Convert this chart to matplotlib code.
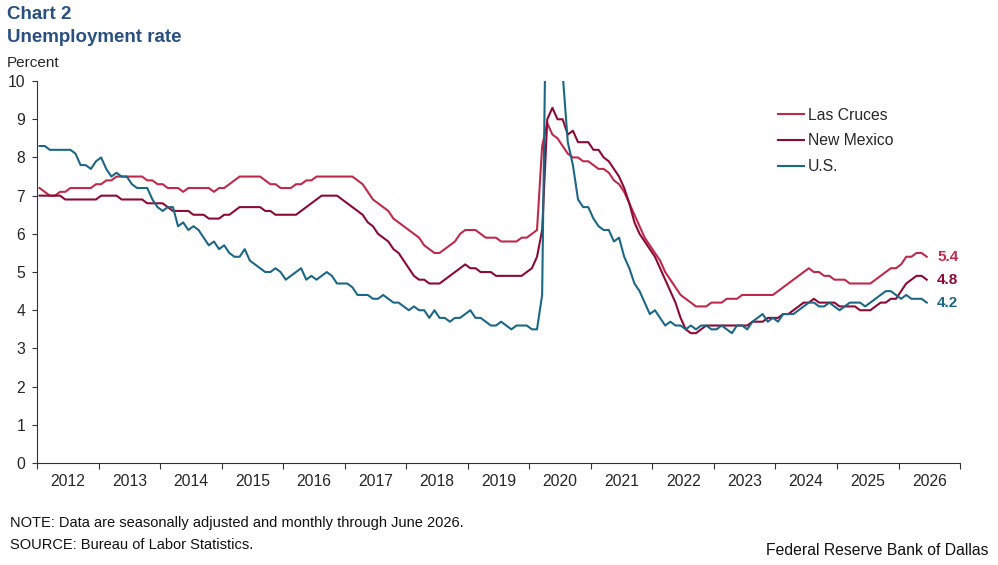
import matplotlib
matplotlib.use("Agg")
import matplotlib.pyplot as plt
import numpy as np

plt.rcParams['font.family'] = ['Liberation Sans', 'DejaVu Sans']

# monthly unemployment rate, Jan 2012 - Jun 2026
las_cruces = [
    7.2, 7.1, 7.0, 7.0, 7.1, 7.1, 7.2, 7.2, 7.2, 7.2, 7.2, 7.3,  # 2012
    7.3, 7.4, 7.4, 7.5, 7.5, 7.5, 7.5, 7.5, 7.5, 7.4, 7.4, 7.3,  # 2013
    7.3, 7.2, 7.2, 7.2, 7.1, 7.2, 7.2, 7.2, 7.2, 7.2, 7.1, 7.2,  # 2014
    7.2, 7.3, 7.4, 7.5, 7.5, 7.5, 7.5, 7.5, 7.4, 7.3, 7.3, 7.2,  # 2015
    7.2, 7.2, 7.3, 7.3, 7.4, 7.4, 7.5, 7.5, 7.5, 7.5, 7.5, 7.5,  # 2016
    7.5, 7.5, 7.4, 7.3, 7.1, 6.9, 6.8, 6.7, 6.6, 6.4, 6.3, 6.2,  # 2017
    6.1, 6.0, 5.9, 5.7, 5.6, 5.5, 5.5, 5.6, 5.7, 5.8, 6.0, 6.1,  # 2018
    6.1, 6.1, 6.0, 5.9, 5.9, 5.9, 5.8, 5.8, 5.8, 5.8, 5.9, 5.9,  # 2019
    6.0, 6.1, 8.3, 8.9, 8.6, 8.5, 8.3, 8.1, 8.0, 8.0, 7.9, 7.9,  # 2020
    7.8, 7.7, 7.7, 7.6, 7.4, 7.3, 7.1, 6.8, 6.5, 6.2, 5.9, 5.7,  # 2021
    5.5, 5.3, 5.0, 4.8, 4.6, 4.4, 4.3, 4.2, 4.1, 4.1, 4.1, 4.2,  # 2022
    4.2, 4.2, 4.3, 4.3, 4.3, 4.4, 4.4, 4.4, 4.4, 4.4, 4.4, 4.4,  # 2023
    4.5, 4.6, 4.7, 4.8, 4.9, 5.0, 5.1, 5.0, 5.0, 4.9, 4.9, 4.8,  # 2024
    4.8, 4.8, 4.7, 4.7, 4.7, 4.7, 4.7, 4.8, 4.9, 5.0, 5.1, 5.1,  # 2025
    5.2, 5.4, 5.4, 5.5, 5.5, 5.4,                                # 2026
]
new_mexico = [
    7.0, 7.0, 7.0, 7.0, 7.0, 6.9, 6.9, 6.9, 6.9, 6.9, 6.9, 6.9,
    7.0, 7.0, 7.0, 7.0, 6.9, 6.9, 6.9, 6.9, 6.9, 6.8, 6.8, 6.8,
    6.8, 6.7, 6.6, 6.6, 6.6, 6.6, 6.5, 6.5, 6.5, 6.4, 6.4, 6.4,
    6.5, 6.5, 6.6, 6.7, 6.7, 6.7, 6.7, 6.7, 6.6, 6.6, 6.5, 6.5,
    6.5, 6.5, 6.5, 6.6, 6.7, 6.8, 6.9, 7.0, 7.0, 7.0, 7.0, 6.9,
    6.8, 6.7, 6.6, 6.5, 6.3, 6.2, 6.0, 5.9, 5.8, 5.6, 5.5, 5.3,
    5.1, 4.9, 4.8, 4.8, 4.7, 4.7, 4.7, 4.8, 4.9, 5.0, 5.1, 5.2,
    5.1, 5.1, 5.0, 5.0, 5.0, 4.9, 4.9, 4.9, 4.9, 4.9, 4.9, 5.0,
    5.1, 5.4, 6.1, 9.0, 9.3, 9.0, 9.0, 8.6, 8.7, 8.4, 8.4, 8.4,
    8.2, 8.2, 8.0, 7.9, 7.7, 7.5, 7.2, 6.8, 6.3, 6.0, 5.8, 5.6,
    5.4, 5.1, 4.8, 4.5, 4.2, 3.8, 3.5, 3.4, 3.4, 3.5, 3.6, 3.6,
    3.6, 3.6, 3.6, 3.6, 3.6, 3.6, 3.6, 3.7, 3.7, 3.7, 3.8, 3.8,
    3.8, 3.9, 3.9, 4.0, 4.1, 4.2, 4.2, 4.3, 4.2, 4.2, 4.2, 4.2,
    4.1, 4.1, 4.1, 4.1, 4.0, 4.0, 4.0, 4.1, 4.2, 4.2, 4.3, 4.3,
    4.5, 4.7, 4.8, 4.9, 4.9, 4.8,
]
us = [
    8.3, 8.3, 8.2, 8.2, 8.2, 8.2, 8.2, 8.1, 7.8, 7.8, 7.7, 7.9,
    8.0, 7.7, 7.5, 7.6, 7.5, 7.5, 7.3, 7.2, 7.2, 7.2, 6.9, 6.7,
    6.6, 6.7, 6.7, 6.2, 6.3, 6.1, 6.2, 6.1, 5.9, 5.7, 5.8, 5.6,
    5.7, 5.5, 5.4, 5.4, 5.6, 5.3, 5.2, 5.1, 5.0, 5.0, 5.1, 5.0,
    4.8, 4.9, 5.0, 5.1, 4.8, 4.9, 4.8, 4.9, 5.0, 4.9, 4.7, 4.7,
    4.7, 4.6, 4.4, 4.4, 4.4, 4.3, 4.3, 4.4, 4.3, 4.2, 4.2, 4.1,
    4.0, 4.1, 4.0, 4.0, 3.8, 4.0, 3.8, 3.8, 3.7, 3.8, 3.8, 3.9,
    4.0, 3.8, 3.8, 3.7, 3.6, 3.6, 3.7, 3.6, 3.5, 3.6, 3.6, 3.6,
    3.5, 3.5, 4.4, 14.8, 13.2, 11.0, 10.2, 8.4, 7.8, 6.9, 6.7, 6.7,
    6.4, 6.2, 6.1, 6.1, 5.8, 5.9, 5.4, 5.1, 4.7, 4.5, 4.2, 3.9,
    4.0, 3.8, 3.6, 3.7, 3.6, 3.6, 3.5, 3.6, 3.5, 3.6, 3.6, 3.5,
    3.5, 3.6, 3.5, 3.4, 3.6, 3.6, 3.5, 3.7, 3.8, 3.9, 3.7, 3.8,
    3.7, 3.9, 3.9, 3.9, 4.0, 4.1, 4.2, 4.2, 4.1, 4.1, 4.2, 4.1,
    4.0, 4.1, 4.2, 4.2, 4.2, 4.1, 4.2, 4.3, 4.4, 4.5, 4.5, 4.4,
    4.3, 4.4, 4.3, 4.3, 4.3, 4.2,
]
series_names = ["Las Cruces", "New Mexico", "U.S."]
years = list(range(2012, 2027))

c_lc = "#BF2A4C"
c_nm = "#8A0B35"
c_us = "#1C6783"
c_title = "#2A5082"

n = len(us)
x = 2012 + (np.arange(n) + 0.5) / 12.0

fig = plt.figure(figsize=(9.98, 5.65), dpi=100)
ax = fig.add_axes([0.0371, 0.1805, 0.9249, 0.676])

ax.plot(x, las_cruces, color=c_lc, lw=1.5, label=series_names[0])
ax.plot(x, new_mexico, color=c_nm, lw=1.5, label=series_names[1])
ax.plot(x, us, color=c_us, lw=1.5, label=series_names[2])

ax.set_xlim(2012, 2027)
ax.set_ylim(0, 10)
ax.set_yticks(range(0, 11))
ax.set_xticks(range(2012, 2028))
ax.set_xticklabels([])
ax.set_xticks([y + 0.5 for y in years], minor=True)
ax.set_xticklabels([str(y) for y in years], minor=True)
ax.tick_params(axis='x', which='major', direction='out', length=4, width=0.8, color='#333333')
ax.tick_params(axis='x', which='minor', length=0, pad=8, labelsize=11.3, labelcolor='#262626')
ax.tick_params(axis='y', direction='out', length=3.5, width=0.8, color='#333333', pad=5,
               labelsize=11.3, labelcolor='#262626')
for s in ['top', 'right']:
    ax.spines[s].set_visible(False)
for s in ['left', 'bottom']:
    ax.spines[s].set_color('#333333')
    ax.spines[s].set_linewidth(0.8)

leg = ax.legend(loc='upper left', bbox_to_anchor=(0.803, 0.93), frameon=False,
                fontsize=11.3, handlelength=1.65, handletextpad=0.25, labelspacing=0.68,
                borderpad=0, borderaxespad=0)
for t in leg.get_texts():
    t.set_color('#262626')

# end-of-series labels
for vals, col in [(las_cruces, c_lc), (new_mexico, c_nm), (us, c_us)]:
    ax.annotate(f"{vals[-1]:.1f}", xy=(x[-1], vals[-1]), xytext=(7.5, 0),
                textcoords='offset points', color=col, fontsize=11, fontweight='bold',
                va='center', ha='left', annotation_clip=False)

fig.text(0.007, 0.975, "Chart 2", fontsize=13.5, fontweight='bold', color=c_title, va='center')
fig.text(0.007, 0.934, "Unemployment rate", fontsize=13.5, fontweight='bold', color=c_title, va='center')
fig.text(0.007, 0.889, "Percent", fontsize=11, color='#262626', va='center')
fig.text(0.010, 0.074, "NOTE: Data are seasonally adjusted and monthly through June 2026.",
         fontsize=10.5, color='#111111', va='center')
fig.text(0.010, 0.035, "SOURCE: Bureau of Labor Statistics.", fontsize=10.5, color='#111111', va='center')
fig.text(0.990, 0.026, "Federal Reserve Bank of Dallas", fontsize=11.3, color='#111111',
         va='center', ha='right')

fig.savefig("out.png", dpi=100)
